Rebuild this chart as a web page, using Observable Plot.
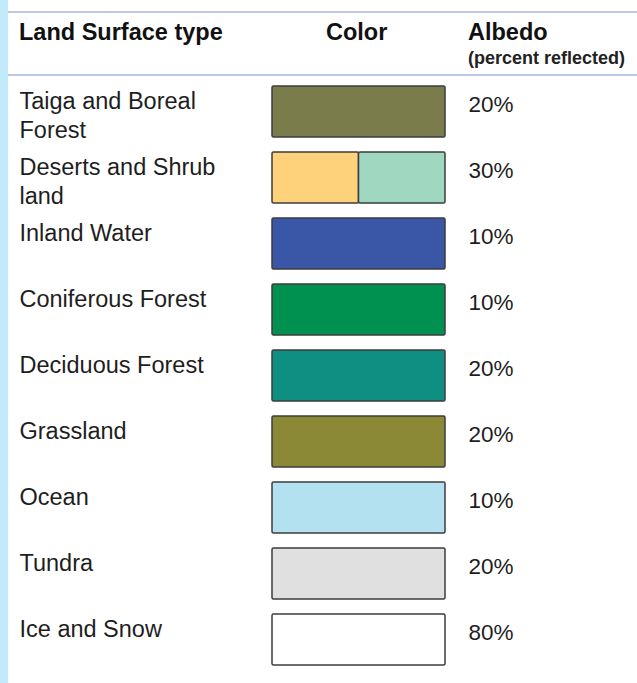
<!DOCTYPE html>
<html>
<head>
<meta charset="utf-8">
<script src="https://cdn.jsdelivr.net/npm/d3@7"></script>
<script src="https://cdn.jsdelivr.net/npm/@observablehq/plot@0.6"></script>
<style>
  html, body { margin: 0; padding: 0; background: #fff; }
  body { width: 637px; height: 683px; overflow: hidden; position: relative; font-family: "Liberation Sans", Arial, sans-serif; }
  #strip { position: absolute; left: 0; top: 0; width: 8px; height: 683px; background: #c1ebfb; }
  #header { position: absolute; left: 8px; top: 0; width: 629px; height: 77px; }
  .hline { position: absolute; left: 0; width: 629px; height: 2px; background: #b8c8e6; }
  .h { position: absolute; font-weight: bold; color: #111; font-size: 23.5px; white-space: nowrap; }
  .sub { position: absolute; font-weight: bold; color: #222; font-size: 18px; white-space: nowrap; }
  #chart { position: absolute; left: 0; top: 77px; }
</style>
</head>
<body>
<div id="strip"></div>
<div id="header">
  <div class="hline" style="top:11px"></div>
  <div class="h" style="left:11px; top:19px">Land Surface type</div>
  <div class="h" style="left:318px; top:19px">Color</div>
  <div class="h" style="left:460px; top:19px">Albedo</div>
  <div class="sub" style="left:460px; top:48px">(percent reflected)</div>
  <div class="hline" style="top:74px"></div>
</div>
<div id="chart"></div>
<script>
const types = [
  "Taiga and Boreal\nForest",
  "Deserts and Shrub\nland",
  "Inland Water",
  "Coniferous Forest",
  "Deciduous Forest",
  "Grassland",
  "Ocean",
  "Tundra",
  "Ice and Snow"
];
const swatchColors = [
  ["#7a7c4c"],
  ["#fdd27b", "#9fd7c1"],
  ["#3a56a6"],
  ["#00904f"],
  ["#0f8f81"],
  ["#8b8936"],
  ["#b3e1ef"],
  ["#e0e0e0"],
  ["#ffffff"]
];
const albedo = [20, 30, 10, 10, 20, 20, 10, 20, 80];

const rows = types.map((t, i) => ({type: t, albedo: albedo[i]}));
const segments = types.flatMap((t, i) =>
  swatchColors[i].map((c, j, arr) => ({type: t, x1: j / arr.length, x2: (j + 1) / arr.length, color: c}))
);

const chart = Plot.plot({
  width: 637,
  height: 606,
  marginLeft: 272,
  marginRight: 192,
  marginTop: 5,
  marginBottom: 13,
  style: {fontFamily: "Liberation Sans, Arial, sans-serif", background: "transparent"},
  x: {domain: [0, 1], axis: null},
  y: {domain: types, axis: null, paddingInner: 0.22, paddingOuter: 0},
  marks: [
    Plot.rect(segments, {x1: "x1", x2: "x2", y: "type", fill: d => d.color, stroke: "#3d3d3d", strokeWidth: 1.5, rx: 1.5}),
    Plot.text(rows, {y: "type", text: "type", frameAnchor: "left", textAnchor: "start", dx: -253, dy: -23, lineAnchor: "top", lineHeight: 1.22, fontSize: 23.5, fill: "#1e1e1e"}),
    Plot.text(rows, {y: "type", text: d => `${d.albedo}%`, frameAnchor: "right", textAnchor: "start", dx: 23, dy: -16, lineAnchor: "top", fontSize: 22.5, fill: "#1e1e1e"})
  ]
});
document.getElementById("chart").appendChild(chart);
</script>
</body>
</html>
